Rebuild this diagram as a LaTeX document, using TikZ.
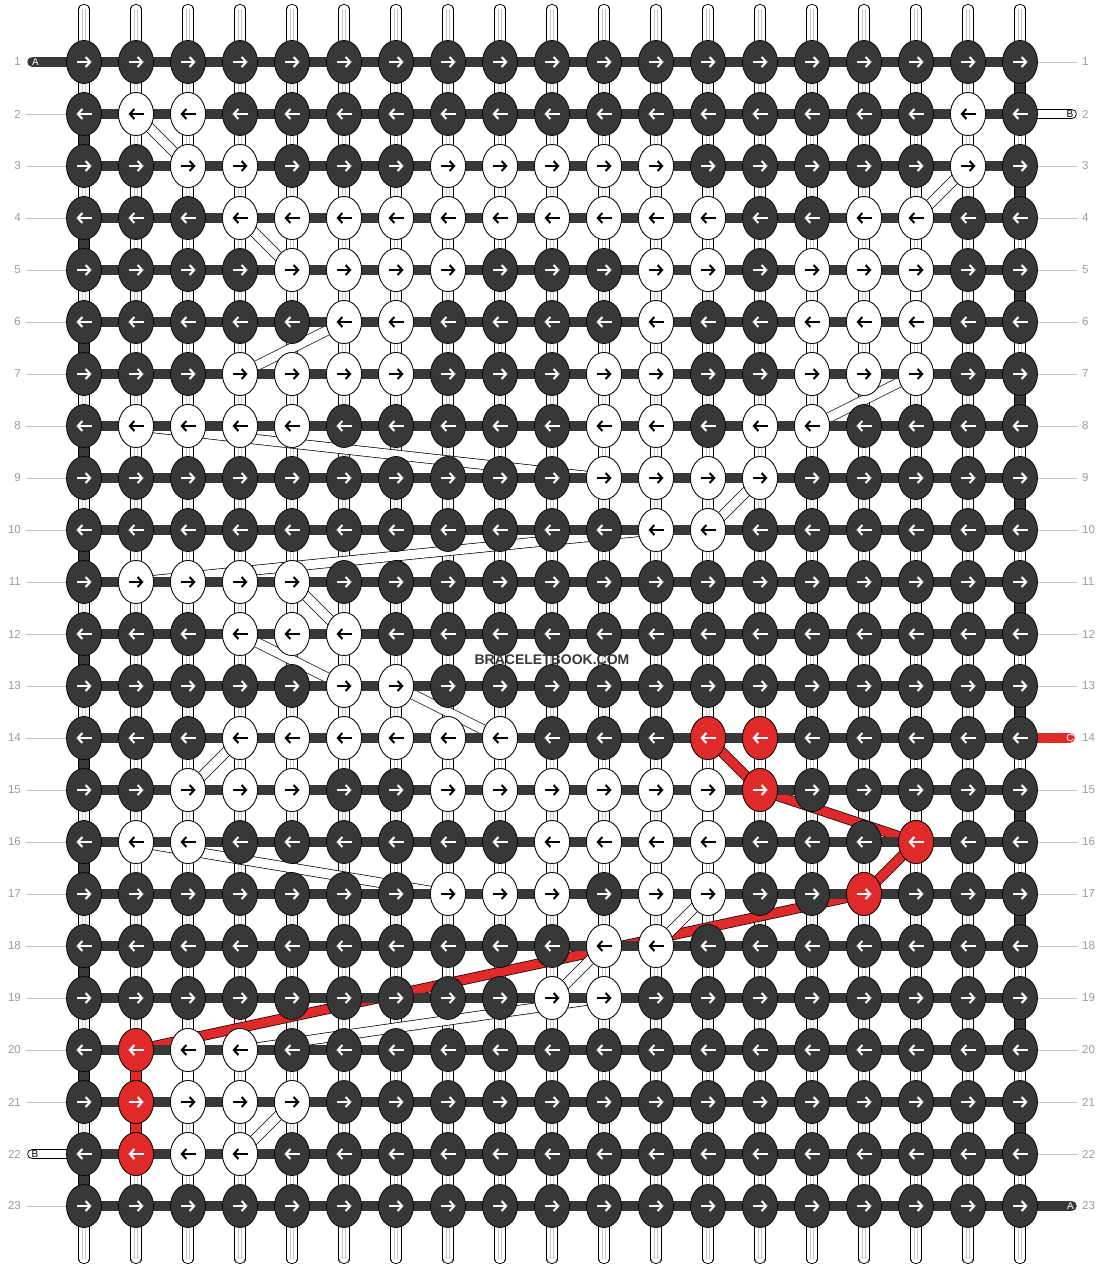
\documentclass[tikz,border=0pt]{standalone}
\usepackage{fontspec}
\setmainfont{Liberation Sans}
\usetikzlibrary{shapes.geometric}
\usetikzlibrary{arrows.meta}

\definecolor{knotdark}{HTML}{383838}
\definecolor{knotred}{HTML}{E02A2A}
\definecolor{numgray}{HTML}{9A9A9A}

\tikzset{
  knot/.style={ellipse, draw=black, line width=0.7pt, minimum width=35pt,
    minimum height=43pt, inner sep=0pt},
  knotarrow/.style={line width=2pt, -{Straight Barb[length=4.5pt,width=10pt]}},
  strandline/.style={line width=0.9pt, draw=black, double=white,
    double distance=9.4pt, line cap=round},
  strandcore/.style={line width=0.6pt, gray!45},
  rowline/.style={line width=10.5pt, knotdark},
  threadend/.style={line width=0.9pt, draw=black, double=white,
    double distance=8.8pt, line cap=round},
  hidden/.style={line width=0.7pt, draw=black, double=white, double distance=9pt},
  hiddenred/.style={line width=0.7pt, draw=black, double=knotred,
    double distance=9pt, line join=round},
  rownum/.style={inner sep=0pt, text=numgray, font=\fontsize{11.5}{12}\selectfont},
  leader/.style={line width=0.8pt, draw=numgray!60},
  endlabel/.style={inner sep=0pt, font=\fontsize{10}{10}\selectfont},
}

% knot with its arrow: row, column, fill, arrow colour
\newcommand\knotat[4]{%
  \node[knot, fill=#3] (k-#1-#2) at (p-#1-#2) {};
  \ifodd#1 \def\knotdir{1}\else\def\knotdir{-1}\fi
  \draw[knotarrow, #4] ([xshift={-7.5*\knotdir}]k-#1-#2.center) -- ([xshift={7.5*\knotdir}]k-#1-#2.center);
}

\begin{document}
\begin{tikzpicture}[x=1pt, y=-1pt]
    \useasboundingbox (0,0) rectangle (1104,1268);

    \foreach \r in {1,...,23}
        \foreach \c in {1,...,19}
            \coordinate (p-\r-\c) at ({32+52*\c},{10+52*\r});
    \foreach \c in {1,...,19} {
        \coordinate (top-\c) at ({32+52*\c},9.5);
        \coordinate (bot-\c) at ({32+52*\c},1258.5);
    }

    % strings
    \foreach \c in {1,...,19} {
        \draw[strandline] (top-\c) -- (bot-\c);
        \draw[strandcore] ([xshift=-1.5]top-\c) -- ([xshift=-1.5]bot-\c);
        \draw[strandcore] ([xshift=1.5]top-\c) -- ([xshift=1.5]bot-\c);
    }
    \foreach \a/\b in {5-17/6-17, 15-13/16-13, 20-3/21-3}
        \draw[line width=9pt, white] (p-\a) -- (p-\b);

    % hidden threads
    \draw[hiddenred] (p-14-13) -- (p-15-14) -- (p-16-17) -- (p-17-16) -- (p-20-2);
    \foreach \a/\b in {2-2/3-3, 3-18/4-17, 4-4/5-5, 6-6/7-4, 7-17/8-15, 8-2/9-11,
        9-14/10-13, 10-12/11-2, 11-5/12-6, 12-4/13-6, 13-7/14-9, 14-4/15-3,
        16-2/17-8, 17-13/18-12, 18-11/19-10, 19-11/20-4, 21-5/22-4}
        \draw[hidden] (p-\a) -- (p-\b);

    % rows
    \foreach \r in {1,...,23}
        \draw[rowline] (p-\r-1) -- (p-\r-19);
    \foreach \r [evaluate=\r as \s using int(\r+1)] in {1,3,...,21}
        \draw[rowline] (p-\r-19) -- (p-\s-19);
    \foreach \r [evaluate=\r as \s using int(\r+1)] in {2,4,...,22}
        \draw[rowline] (p-\r-1) -- (p-\s-1);
    \draw[line width=10.5pt, knotred] (p-20-2) -- (p-22-2);

    % thread ends
    \coordinate (endA1) at (32.5,62);
    \coordinate (endB2) at (1071.5,114);
    \coordinate (endC14) at (1069.5,738);
    \coordinate (endB22) at (32.5,1154);
    \coordinate (endA23) at (1071.5,1206);
    \draw[rowline, line cap=round] (endA1) -- (p-1-1);
    \draw[rowline, line cap=round] (p-23-19) -- (endA23);
    \draw[line width=10.5pt, knotred, line cap=round] (p-14-19) -- (endC14);
    \draw[threadend] (p-2-19) -- (endB2);
    \draw[threadend] (endB22) -- (p-22-1);
    \node[endlabel, text=white] (lblA1) at ([xshift=3]endA1) {A};
    \node[endlabel] (lblB2) at ([xshift=-1.5]endB2) {B};
    \node[endlabel, text=white] (lblC14) at ([xshift=0.5]endC14) {C};
    \node[endlabel] (lblB22) at ([xshift=2.5]endB22) {B};
    \node[endlabel, text=white] (lblA23) at ([xshift=-1]endA23) {A};

    % knots
    \foreach \r in {1,...,23}
        \foreach \c in {1,...,19}
            \knotat{\r}{\c}{knotdark}{white};
    \foreach \r/\cols in {2/{2,3,18}, 3/{3,4,8,9,10,11,12,18},
        4/{4,5,6,7,8,9,10,11,12,13,16,17}, 5/{5,6,7,8,12,13,15,16,17},
        6/{6,7,12,15,16,17}, 7/{4,5,6,7,11,12,15,16,17}, 8/{2,3,4,5,11,12,14,15},
        9/{11,12,13,14}, 10/{12,13}, 11/{2,3,4,5}, 12/{4,5,6}, 13/{6,7},
        14/{4,5,6,7,8,9}, 15/{3,4,5,8,9,10,11,12,13}, 16/{2,3,10,11,12,13},
        17/{8,9,10,12,13}, 18/{11,12}, 19/{10,11}, 20/{3,4}, 21/{3,4,5}, 22/{3,4}}
        \foreach \c in \cols
            \knotat{\r}{\c}{white}{black};
    \foreach \r/\c in {14/13, 14/14, 15/14, 16/17, 17/16, 20/2, 21/2, 22/2}
        \knotat{\r}{\c}{knotred}{white};

    % row numbers
    \foreach \r in {1,...,23} {
        \node[rownum, anchor=east] (numl-\r) at (21,{10+52*\r}) {\r};
        \node[rownum, anchor=west] (numr-\r) at (1082,{10+52*\r}) {\r};
    }
    \foreach \r in {2,...,21,23}
        \draw[leader] ([xshift=5]numl-\r.east) -- (k-\r-1.west);
    \foreach \r in {1,3,4,...,13,15,16,...,22}
        \draw[leader] (k-\r-19.east) -- ([xshift=-5]numr-\r.west);

    \node[font=\bfseries\fontsize{14}{14}\selectfont, text=knotdark] (mark) at (552,660) {BRACELETBOOK.COM};
\end{tikzpicture}
\end{document}
